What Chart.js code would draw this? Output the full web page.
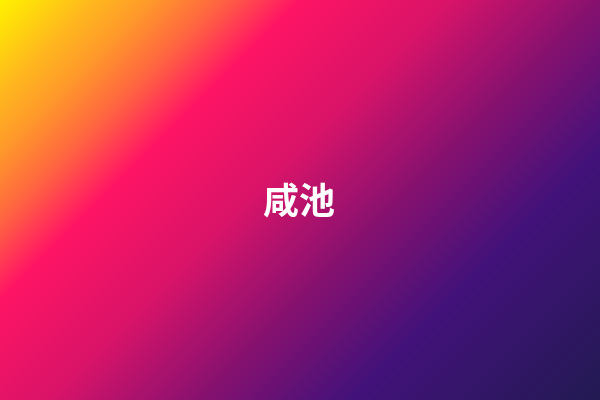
<!DOCTYPE html>
<html>
<head>
<meta charset="utf-8">
<script src="https://cdn.jsdelivr.net/npm/chart.js@4/dist/chart.umd.min.js"></script>
<style>
  html, body { margin: 0; padding: 0; background: #000; }
  #wrap { position: relative; width: 600px; height: 400px; }
</style>
</head>
<body>
<div id="wrap"><canvas id="chart"></canvas></div>
<script>
// the picture has no series, only a title over a gradient
const labels = [];
const values = [];
const titleText = "咸池";

// background gradient, top-left to bottom-right
const bgStops = [0, 0.1, 0.15, 0.22, 0.3, 0.45, 0.6, 0.75, 1];
const bgColors = ["#fff200", "#ffb420", "#ff9a2a", "#ff6640", "#ff1464", "#d81468", "#86116f", "#42127a", "#221a52"];

const backdrop = {
  id: "backdrop",
  beforeDraw(chart) {
    const { ctx, width, height } = chart;
    // 135deg: the gradient line runs along (1,1), length w/2+h/2 each side
    const half = (width + height) / 2;
    const cx = width / 2, cy = height / 2;
    const d = half / 2;
    const grad = ctx.createLinearGradient(cx - d, cy - d, cx + d, cy + d);
    bgStops.forEach((s, i) => grad.addColorStop(s, bgColors[i]));
    ctx.save();
    ctx.fillStyle = grad;
    ctx.fillRect(0, 0, width, height);
    ctx.restore();
  },
  afterDraw(chart) {
    const { ctx, width, height } = chart;
    ctx.save();
    ctx.fillStyle = "#ffffff";
    ctx.font = "bold 36px 'Noto Sans CJK SC'";
    ctx.textAlign = "center";
    ctx.textBaseline = "middle";
    ctx.fillText(titleText, width / 2 - 1, height / 2);
    ctx.restore();
  },
};

new Chart(document.getElementById("chart"), {
  type: "bar",
  data: {
    labels: labels,
    datasets: [{ data: values }],
  },
  options: {
    responsive: true,
    maintainAspectRatio: false,
    animation: false,
    layout: { padding: 0 },
    plugins: {
      legend: { display: false },
      tooltip: { enabled: false },
      title: { display: false },
    },
    scales: {
      x: { display: false },
      y: { display: false },
    },
  },
  plugins: [backdrop],
});
</script>
</body>
</html>
